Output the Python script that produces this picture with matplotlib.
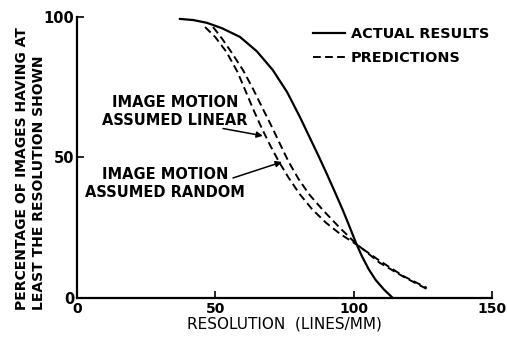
import matplotlib
matplotlib.use('Agg')
from matplotlib import pyplot as plt
from matplotlib import rcParams

rcParams['font.family'] = 'DejaVu Sans'
rcParams['font.weight'] = 'bold'
rcParams['font.size'] = 10

# values
actual_x = [37.2, 42, 47.0, 52.4, 58.9, 65, 70.8, 76, 80.6, 84.2, 87.5, 90.4, 93.3, 96.1, 98.5, 100.8, 103, 105.5, 108, 111, 114.2]
actual_y = [99.3, 98.9, 97.9, 96.0, 92.9, 87.8, 81.1, 73.2, 64.4, 57.0, 50.2, 44.0, 37.6, 31.3, 25.5, 19.8, 14.9, 10.2, 6.4, 3.0, 0]

linear_x = [46.3, 50, 54, 58, 61, 64, 67, 70, 73, 76.5, 80.5, 85, 90, 95, 100.8, 109.5, 118, 126.5]
linear_y = [96.4, 92.8, 87.6, 80.5, 73.5, 66.5, 60.0, 54.0, 48.5, 42.8, 37.0, 31.6, 26.8, 22.9, 19.2, 13.2, 7.8, 3.6]

random_x = [49.2, 52.5, 56, 60, 63.6, 67.2, 70.5, 73.5, 76.5, 80, 84, 88.9, 94.5, 100.8, 109.5, 118, 126.5]
random_y = [96.4, 92.2, 87.2, 81.1, 74.5, 67.3, 60.8, 54.6, 48.5, 42.5, 36.8, 31.3, 25.5, 19.4, 12.5, 7.6, 3.2]

xticks = [0, 50, 100, 150]
yticks = [0, 50, 100]

fig = plt.figure(figsize=(5.07, 3.39), dpi=100)
ax = fig.add_axes([0.152, 0.121, 0.818, 0.829])

dash = (0, (4, 2.2))
ax.plot(actual_x, actual_y, color='black', lw=1.6, label='ACTUAL RESULTS')
ax.plot(linear_x, linear_y, color='black', lw=1.4, ls=dash, label='PREDICTIONS')
ax.plot(random_x, random_y, color='black', lw=1.4, ls=dash)

ax.set(xlim=(0, 150), ylim=(0, 100), xticks=xticks, yticks=yticks)
for side in ['top', 'right']:
    ax.spines[side].set_visible(False)
for side in ['left', 'bottom']:
    ax.spines[side].set_linewidth(1.6)
ax.tick_params(axis='x', direction='in', length=5, width=1.2, pad=3, labelsize=10)
ax.tick_params(axis='y', direction='in', length=5, width=1.2, pad=2, labelsize=10.5)

ax.set_xlabel('RESOLUTION  (LINES/MM)', fontsize=11, labelpad=0)
fig.text(0.060, 0.086, 'PERCENTAGE OF IMAGES HAVING AT\nLEAST THE RESOLUTION SHOWN',
         rotation=90, ha='center', va='bottom', multialignment='left',
         fontsize=10, linespacing=1.3)

arrow = dict(arrowstyle='-|>', color='black', lw=1.1, mutation_scale=9,
             shrinkA=0, shrinkB=0)
ax.text(35.4, 66.5, 'IMAGE MOTION\nASSUMED LINEAR', ha='center', va='center',
        fontsize=10.5, linespacing=1.25)
ax.annotate('', xy=(67.2, 57.7), xytext=(52.8, 60.3), arrowprops=arrow)
ax.text(31.8, 40.9, 'IMAGE MOTION\nASSUMED RANDOM', ha='center', va='center',
        fontsize=10.5, linespacing=1.25)
ax.annotate('', xy=(74.1, 48.4), xytext=(56.4, 42.7), arrowprops=arrow)

ax.legend(loc='upper left', bbox_to_anchor=(0.570, 0.965), frameon=False,
          borderpad=0, borderaxespad=0, handlelength=2.2, handletextpad=0.4,
          labelspacing=0.72, fontsize=10.4)

fig.savefig('out.png', dpi=100)
